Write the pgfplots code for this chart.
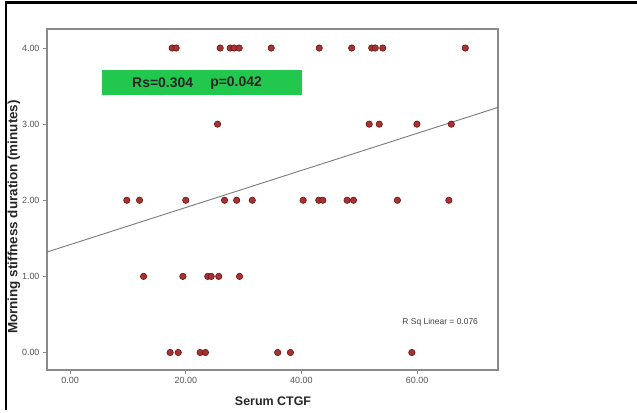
\documentclass[border=0pt]{standalone}
\usepackage{pgfplots}
\pgfplotsset{compat=1.18}
\usepackage{fontspec}
\setmainfont{Liberation Sans}
\definecolor{axgray}{HTML}{8A8A8A}
\definecolor{tickgray}{HTML}{555555}
\definecolor{ptfill}{HTML}{A63232}
\definecolor{ptedge}{HTML}{6A1515}
\definecolor{boxgreen}{HTML}{22C84E}
\definecolor{linegray}{HTML}{7A7A7A}
\begin{document}
\begin{tikzpicture}[x=1bp,y=1bp]
\useasboundingbox (0,0) rectangle (637,412);
\draw[line width=3bp, black] (5,409.5) -- (637,409.5);
\draw[line width=2bp, black] (6,411) -- (6,2);
\begin{axis}[
  at={(47bp,42bp)}, anchor=south west,
  scale only axis, width=451bp, height=341bp,
  xmin=-4, xmax=74, ymin=-0.23, ymax=4.25,
  axis line style={axgray, line width=1.3bp},
  tick align=outside, tick pos=left,
  major tick length=4bp,
  tick style={axgray, line width=0.8bp},
  xtick={0,20,40,60}, xticklabels={0.00,20.00,40.00,60.00},
  ytick={0,1,2,3,4}, yticklabels={0.00,1.00,2.00,3.00,4.00},
  ticklabel style={font=\fontsize{9}{10}\selectfont, text=tickgray},
  /pgf/number format/assume math mode=true,
  clip=false,
]
\fill[boxgreen] (axis cs:5.5,3.377) rectangle (axis cs:40.1,3.705);
\node[font=\fontsize{14}{16}\selectfont\bfseries, text=black!85] at (axis cs:16.0,3.54) {Rs=0.304};
\node[font=\fontsize{14}{16}\selectfont\bfseries, text=black!85] at (axis cs:28.7,3.54) {p=0.042};
\node[font=\fontsize{8.5}{10}\selectfont, text=black!75] at (axis cs:64.0,0.40) {R Sq Linear = 0.076};
\addplot[linegray, line width=0.9bp] coordinates {(-4,1.32) (74,3.22)};
\addplot[only marks, mark=*, mark size=3.2bp, mark options={fill=ptfill, draw=ptedge, line width=0.6bp}] coordinates {
(17.65,4) (18.34,4) (25.95,4) (27.68,4) (28.37,4) (29.24,4) (34.78,4) (43.08,4) (48.70,4) (52.16,4) (52.77,4) (54.07,4) (68.34,4)
(25.5,3) (51.73,3) (53.46,3) (59.98,3) (65.92,3)
(9.8,2) (12.0,2) (20.0,2) (26.7,2) (28.8,2) (31.5,2) (40.3,2) (43.0,2) (43.7,2) (47.9,2) (49.0,2) (56.6,2) (65.5,2)
(12.7,1) (19.5,1) (23.8,1) (24.4,1) (25.7,1) (29.3,1)
(17.3,0) (18.7,0) (22.5,0) (23.4,0) (35.9,0) (38.1,0) (59.1,0)
};
\end{axis}
\node[font=\fontsize{12.5}{14}\selectfont\bfseries, text=black!85] at (273,11) {Serum CTGF};
\node[font=\fontsize{13.5}{15}\selectfont\bfseries, text=black!85, rotate=90] at (14,195) {Morning stiffness duration (minutes)};
\end{tikzpicture}
\end{document}
